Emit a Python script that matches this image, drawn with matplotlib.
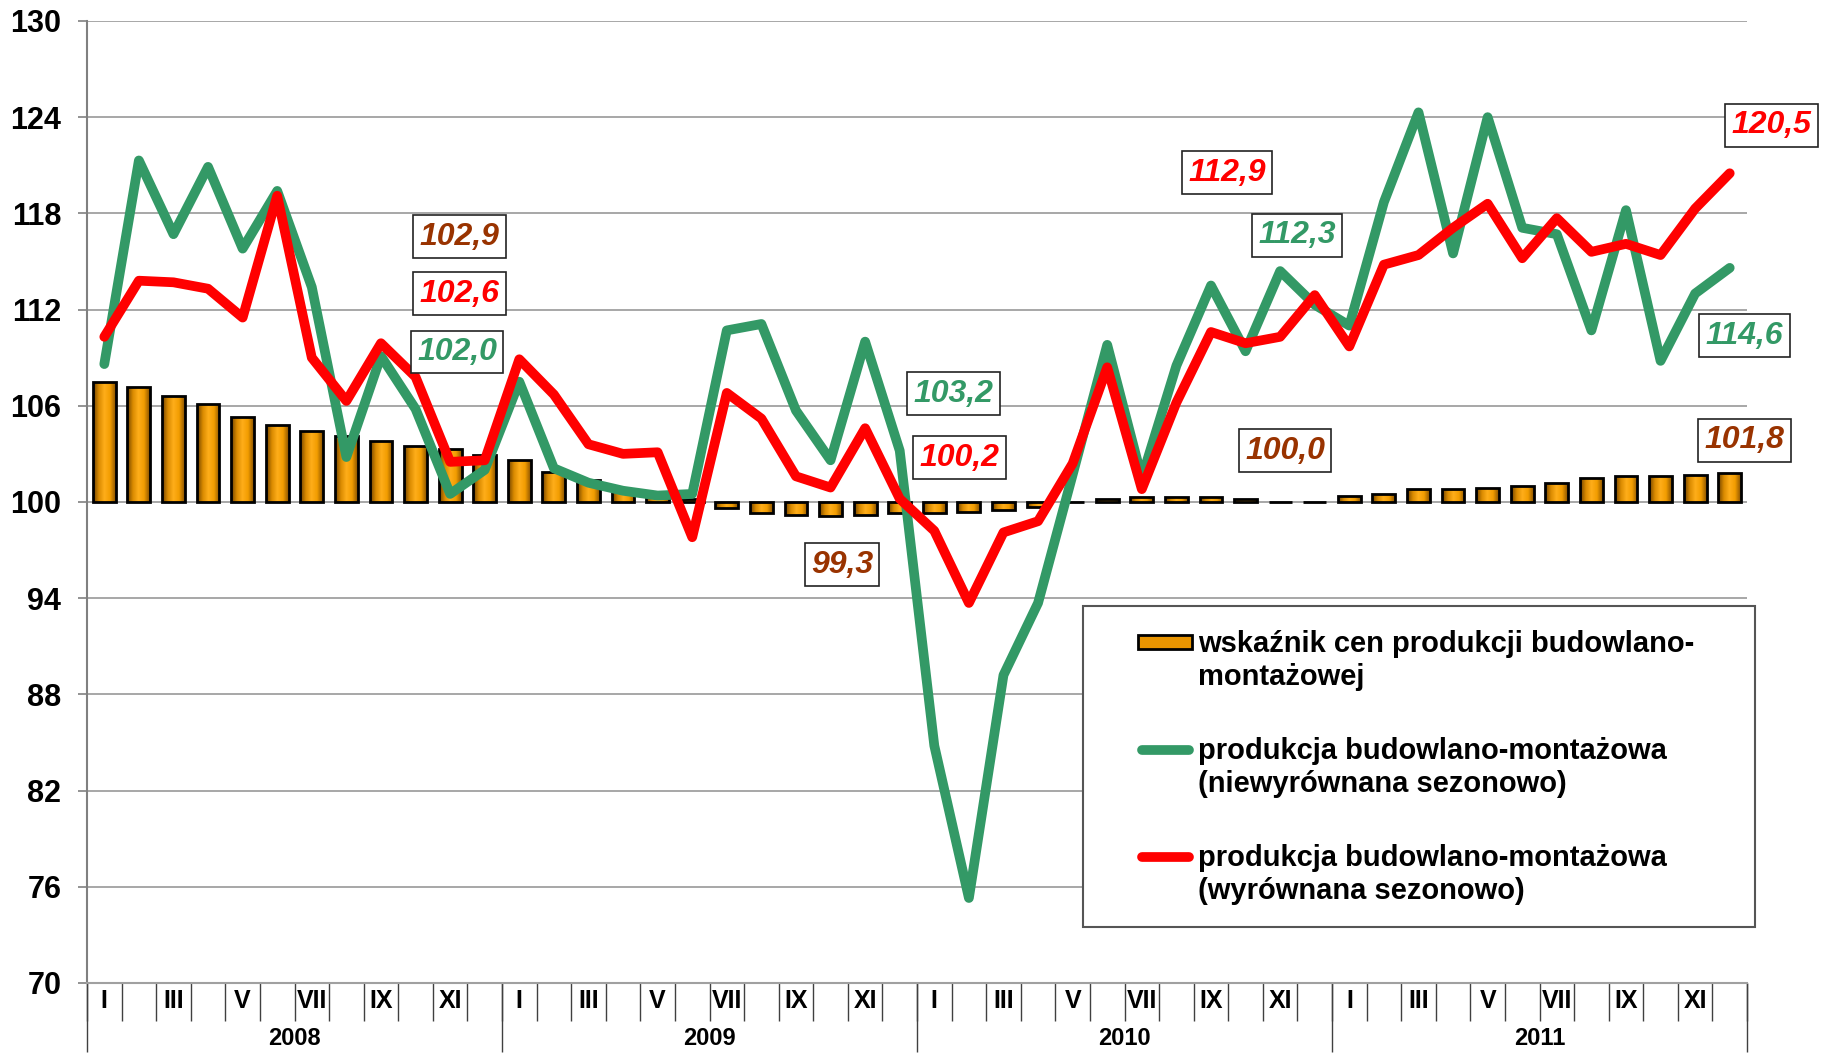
import numpy as np
import matplotlib
matplotlib.use("Agg")
import matplotlib.pyplot as plt
from matplotlib.colors import LinearSegmentedColormap
from matplotlib.lines import Line2D
from matplotlib.patches import Rectangle

plt.rcParams['font.family'] = ['Liberation Sans', 'DejaVu Sans']

# ====================================
# DATA
# ====================================

years = ["2008", "2009", "2010", "2011"]
months = ["I", "II", "III", "IV", "V", "VI",
          "VII", "VIII", "IX", "X", "XI", "XII"]

# wskaznik cen produkcji budowlano-montazowej
ceny = [
    107.5, 107.2, 106.6, 106.1, 105.3, 104.8, 104.4, 104.1, 103.8, 103.5, 103.3, 102.9,
    102.6, 101.9, 101.4, 100.8, 100.4, 100.2, 99.6, 99.3, 99.2, 99.1, 99.2, 99.3,
    99.3, 99.4, 99.5, 99.7, 100.0, 100.2, 100.3, 100.3, 100.3, 100.2, 100.0, 100.0,
    100.4, 100.5, 100.8, 100.8, 100.9, 101.0, 101.2, 101.5, 101.6, 101.6, 101.7, 101.8,
]

# produkcja (niewyrownana sezonowo)
niewyr = [
    108.6, 121.3, 116.7, 120.9, 115.8, 119.4, 113.4, 102.8, 109.1, 105.8, 100.5, 102.0,
    107.5, 102.1, 101.2, 100.7, 100.4, 100.5, 110.7, 111.1, 105.7, 102.6, 110.0, 103.2,
    84.8, 75.3, 89.2, 93.7, 101.7, 109.8, 101.5, 108.5, 113.5, 109.4, 114.4, 112.3,
    111.0, 118.7, 124.3, 115.5, 124.0, 117.1, 116.7, 110.7, 118.2, 108.8, 113.0, 114.6,
]

# produkcja (wyrownana sezonowo)
wyr = [
    110.3, 113.8, 113.7, 113.3, 111.5, 119.1, 109.0, 106.3, 109.9, 107.8, 102.5, 102.6,
    108.9, 106.7, 103.6, 103.0, 103.1, 97.8, 106.8, 105.2, 101.6, 100.9, 104.6, 100.2,
    98.2, 93.7, 98.1, 98.8, 102.4, 108.4, 100.8, 106.2, 110.6, 109.9, 110.3, 112.9,
    109.7, 114.8, 115.4, 117.1, 118.6, 115.2, 117.7, 115.6, 116.1, 115.4, 118.3, 120.5,
]

# December values shown in boxes: (text, series, x, y)
labels = [
    ("102,9", "ceny", 10.27, 116.55),
    ("102,6", "wyr", 10.27, 113.0),
    ("102,0", "niewyr", 10.2, 109.36),
    ("103,2", "niewyr", 24.56, 106.75),
    ("100,2", "wyr", 24.73, 102.76),
    ("99,3", "ceny", 21.33, 96.08),
    ("112,9", "wyr", 32.46, 120.54),
    ("112,3", "niewyr", 34.48, 116.62),
    ("100,0", "ceny", 34.14, 103.19),
    ("120,5", "wyr", 48.2, 123.5),
    ("114,6", "niewyr", 47.43, 110.38),
    ("101,8", "ceny", 47.43, 103.85),
]

GREEN = "#339966"
RED = "#FF0000"
BROWN = "#993300"
colors = {"ceny": BROWN, "niewyr": GREEN, "wyr": RED}

# ====================================
# CHART
# ====================================

fig = plt.figure(figsize=(18.24, 10.53), dpi=100)
ax = fig.add_axes([0.0477, 0.0665, 0.9101, 0.9136])

x = np.arange(len(ceny))
base = 100
heights = np.array(ceny) - base

# gradient bars
grad_cmap = LinearSegmentedColormap.from_list(
    "bar", ["#6e4100", "#d98a00", "#ffae1a", "#f29d00", "#8a5200"]
)
grad = np.linspace(0, 1, 64).reshape(1, -1)

bars = ax.bar(x, heights, bottom=base, width=0.66,
              facecolor="none", edgecolor="black", linewidth=2, zorder=3)

for bar in bars:
    bx = bar.get_x()
    bw = bar.get_width()
    by = bar.get_y()
    bh = bar.get_height()
    im = ax.imshow(grad, cmap=grad_cmap, aspect="auto",
                   extent=(bx, bx + bw, min(by, by + bh), max(by, by + bh)),
                   zorder=2.5)
    im.set_clip_path(bar)

ax.plot(x, niewyr, color=GREEN, lw=7, solid_joinstyle="round",
        solid_capstyle="round", zorder=4)
ax.plot(x, wyr, color=RED, lw=7, solid_joinstyle="round",
        solid_capstyle="round", zorder=5)

# value boxes
for txt, ser, lx, ly in labels:
    ax.text(lx, ly, txt, color=colors[ser], fontsize=23,
            fontweight="bold", fontstyle="italic",
            ha="center", va="center", zorder=6, clip_on=False,
            bbox=dict(boxstyle="square,pad=0.2", fc="white",
                      ec="#222222", lw=1.2))

# axes
ax.set_xlim(-0.5, len(ceny) - 0.5)
ax.set_ylim(70, 130)

ax.set_yticks(np.arange(70, 131, 6))
ax.tick_params(axis="y", labelsize=22, length=6.5, width=1.2,
               color="#808080", pad=12)
for t in ax.get_yticklabels():
    t.set_fontweight("bold")

ax.yaxis.grid(True, color="#a0a0a0", lw=1.3)
ax.set_axisbelow(True)

for s in ["top", "right"]:
    ax.spines[s].set_visible(False)
ax.spines["left"].set_color("#808080")
ax.spines["left"].set_linewidth(1.5)
ax.spines["bottom"].set_color("#a0a0a0")
ax.spines["bottom"].set_linewidth(1.5)

# month row
ax.set_xticks(np.arange(-0.5, len(ceny), 1))
ax.set_xticklabels([])
ax.tick_params(axis="x", which="major", length=27, width=1,
               color="#404040", direction="out")
month_pos = x[::2]
month_lab = [months[i % 12] for i in month_pos]
ax.set_xticks(month_pos, month_lab, minor=True)
ax.tick_params(axis="x", which="minor", length=0, pad=4, labelsize=18)
for t in ax.get_xticklabels(minor=True):
    t.set_fontweight("bold")

# year row
sec = ax.secondary_xaxis("bottom")
sec.set_xticks(np.arange(-0.5, len(ceny), 12), [""] * 5)
sec.tick_params(axis="x", which="major", length=50, width=1, color="#404040")
sec.set_xticks(np.arange(5.5, len(ceny), 12), years, minor=True)
sec.tick_params(axis="x", which="minor", length=0, pad=32, labelsize=17)
for t in sec.get_xticklabels(minor=True):
    t.set_fontweight("bold")
sec.spines["bottom"].set_visible(False)

# ====================================
# LEGEND
# ====================================

fig.add_artist(Rectangle((0.5938, 0.1197), 0.3684, 0.3048,
                         transform=fig.transFigure, fc="white",
                         ec="#555555", lw=1.5, zorder=7))

fig.add_artist(Rectangle((0.624, 0.3835), 0.0296, 0.0135,
                         transform=fig.transFigure, fc="#e89400",
                         ec="black", lw=2, zorder=8))
fig.add_artist(Line2D([0.626, 0.652], [0.2878, 0.2878],
                      transform=fig.transFigure, color=GREEN, lw=7,
                      solid_capstyle="round", zorder=8))
fig.add_artist(Line2D([0.626, 0.652], [0.1861, 0.1861],
                      transform=fig.transFigure, color=RED, lw=7,
                      solid_capstyle="round", zorder=8))

legend_texts = [
    ("wskaźnik cen produkcji budowlano-\nmontażowej", 0.3728),
    ("produkcja budowlano-montażowa\n(niewyrównana sezonowo)", 0.2711),
    ("produkcja budowlano-montażowa\n(wyrównana sezonowo)", 0.1695),
]
for txt, ty in legend_texts:
    fig.text(0.6568, ty, txt, fontsize=21, fontweight="bold",
             ha="left", va="center", linespacing=1.2, zorder=9)

plt.savefig("out.png", dpi=100)
